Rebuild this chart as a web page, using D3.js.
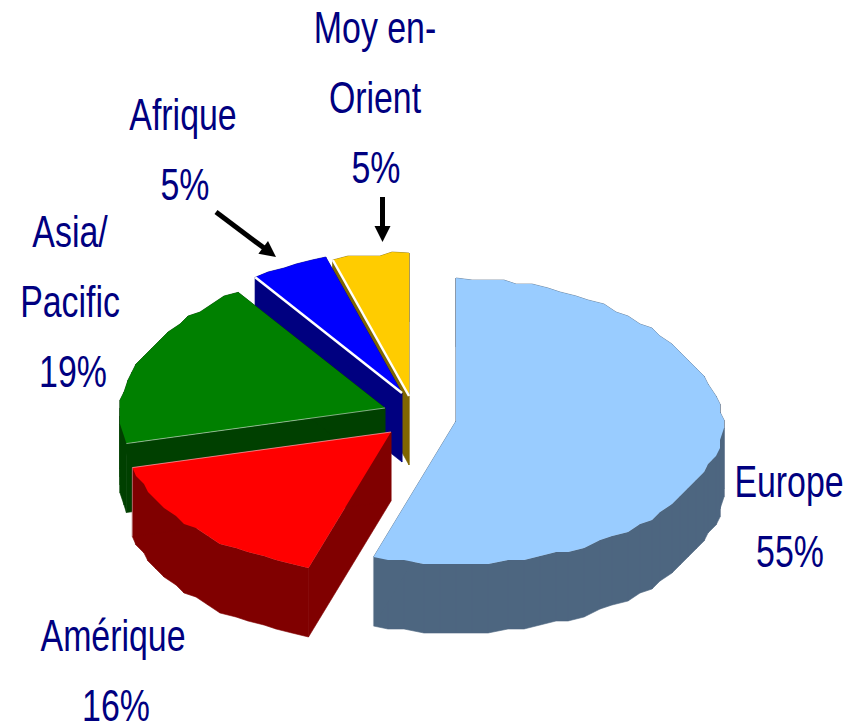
<!DOCTYPE html>
<html>
<head>
<meta charset="utf-8">
<script src="https://cdn.jsdelivr.net/npm/d3@7"></script>
<style>
  html, body { margin: 0; background: #fff; }
  text { font-family: "Liberation Sans", Arial, sans-serif; font-size: 44px; fill: #000080; text-anchor: middle; }
</style>
</head>
<body>
<svg width="860" height="724"></svg>
<script>
// drawing order is back to front, values stay in clockwise pie order
let categories = ["Europe", "Amérique", "Asia/Pacific", "Afrique", "Moyen-Orient"];
let shares = [55, 16, 19, 5, 5];
let topColors = ["#99ccff", "#ff0000", "#008000", "#0000ff", "#ffcc00"];
let wallColors = ["#4d6680", "#800000", "#004000", "#000080", "#806600"];
let apexX = [456, 391, 385, 402, 409];
let apexY = [421, 432, 408, 393, 396];
let seamWidth = [0, 1, 1, 2.5, 2.5];
let seamOpacity = [0, 0.5, 0.5, 1, 1];

let labelLines = [
  ["Europe", "55%"],
  ["Amérique", "16%"],
  ["Asia/", "Pacific", "19%"],
  ["Afrique", "5%"],
  ["Moy en-", "Orient", "5%"]
];
let labelX = [[789, 790], [113, 116], [70, 70, 73], [183, 185], [375, 375, 376]];
let labelY = [497, 651, 247, 130, 43];

let rx = 267, ry = 143, depth = 69;
let farSqueeze = 0.08, rimGrid = 4, rimStep = Math.PI / 50;

let svg = d3.select("svg");

let arcs = d3.pie().sort(null).value(function(d) { return d; })(shares);

function rimPoint(i, a) {
  let c = Math.cos(a);
  // far side of the pie is slightly narrower
  let squeeze = c > 0 ? 1 - farSqueeze * c : 1;
  return [apexX[i] + rx * Math.sin(a) * squeeze, apexY[i] - ry * c];
}

// outline of a slice: apex, then rim, rim snapped to a coarse grid for the rough edge
function outline(i) {
  let arc = arcs[i];
  let steps = d3.range(arc.startAngle + rimStep, arc.endAngle - rimStep / 2, rimStep);
  let rim = steps.map(function(a) {
    let p = rimPoint(i, a);
    return [Math.round(p[0] / rimGrid) * rimGrid, Math.round(p[1] / rimGrid) * rimGrid];
  });
  return [[apexX[i], apexY[i]], rimPoint(i, arc.startAngle)]
    .concat(rim, [rimPoint(i, arc.endAngle)]);
}

let line = d3.line();

[4, 3, 2, 1, 0].forEach(function(i) {
  let pts = outline(i);
  let g = svg.append("g").attr("class", "slice");

  // walls, one quad per outline edge
  pts.forEach(function(p, j) {
    let q = pts[(j + 1) % pts.length];
    g.append("path")
      .attr("d", line([p, q, [q[0], q[1] + depth], [p[0], p[1] + depth]]) + "Z")
      .attr("fill", wallColors[i])
      .attr("stroke", wallColors[i])
      .attr("stroke-width", 0.6);
  });

  g.append("path")
    .attr("d", line(pts) + "Z")
    .attr("fill", topColors[i]);

  // light seam along the radial edge that faces the viewer
  let front = i < 2 ? arcs[i].endAngle : arcs[i].startAngle;
  let corner = rimPoint(i, front);
  g.append("path")
    .attr("d", line([[apexX[i], apexY[i]], corner]))
    .attr("stroke", "#fff")
    .attr("stroke-width", seamWidth[i])
    .attr("stroke-opacity", seamOpacity[i])
    .attr("fill", "none");
  if (i < 2) {
    g.append("path")
      .attr("d", line([corner, [corner[0], corner[1] + depth]]))
      .attr("stroke", "#fff")
      .attr("stroke-opacity", 0.4)
      .attr("fill", "none");
  }
});

// arrows to the two small slices
function arrow(x1, y1, x2, y2) {
  let angle = Math.atan2(y2 - y1, x2 - x1) * 180 / Math.PI;
  let len = Math.hypot(x2 - x1, y2 - y1);
  let g = svg.append("g")
    .attr("transform", "translate(" + x1 + "," + y1 + ") rotate(" + angle + ")");
  g.append("line")
    .attr("x2", len - 14)
    .attr("stroke", "#000")
    .attr("stroke-width", 5);
  g.append("path")
    .attr("d", line([[len, 0], [len - 16, -8], [len - 16, 8]]) + "Z")
    .attr("fill", "#000");
}
arrow(216, 212, 276, 257);
arrow(382.5, 197, 382.5, 242);

// labels are squeezed sideways like the original
labelLines.forEach(function(lines, i) {
  lines.forEach(function(t, j) {
    svg.append("text")
      .attr("transform", "translate(" + labelX[i][j] + "," + (labelY[i] + j * 70) + ") scale(0.77,1)")
      .text(t);
  });
});
</script>
</body>
</html>
